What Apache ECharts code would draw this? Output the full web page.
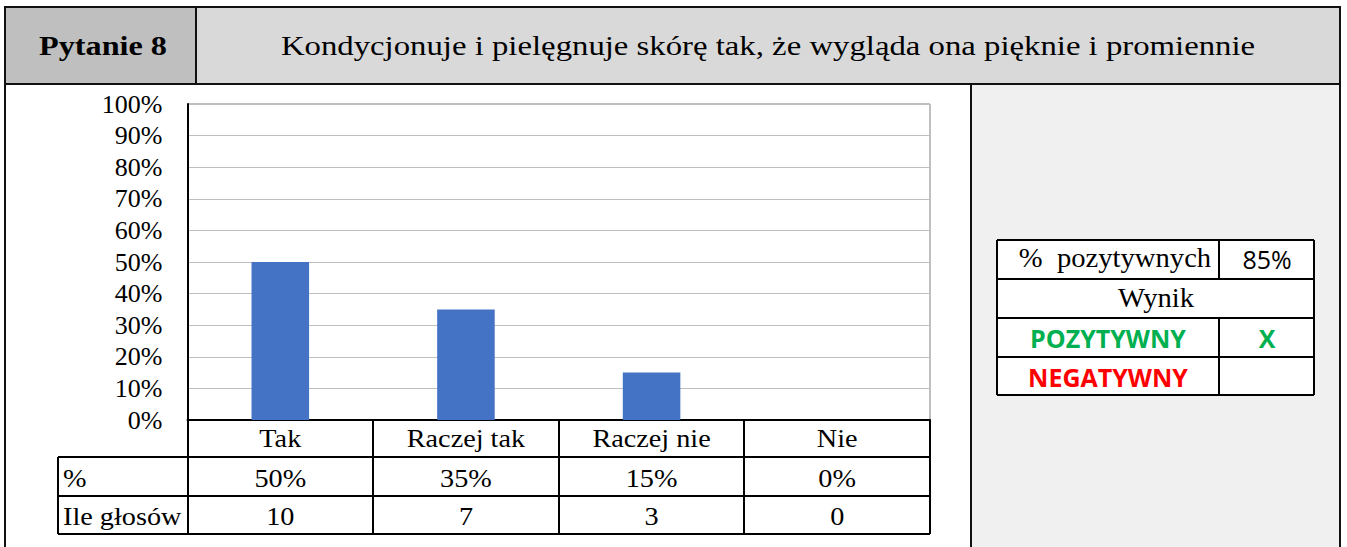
<!DOCTYPE html>
<html>
<head>
<meta charset="utf-8">
<script src="https://cdn.jsdelivr.net/npm/echarts@6/dist/echarts.min.js"></script>
<style>
html,body{margin:0;padding:0;background:#fff;}
#chart{width:1347px;height:547px;}
</style>
</head>
<body>
<div id="chart"></div>
<script>
// ---- data ----
const questionLabel = 'Pytanie 8';
const questionText = 'Kondycjonuje i pielęgnuje skórę tak, że wygląda ona pięknie i promiennie';
const categories = ['Tak', 'Raczej tak', 'Raczej nie', 'Nie'];
const percentValues = [50, 35, 15, 0];
const voteCounts = [10, 7, 3, 0];
const rowLabels = ['%', 'Ile głosów'];
const yMin = 0, yMax = 100, yInterval = 10;
const positiveLabel = '% pozytywnych';
const resultHeader = 'Wynik';
const resultLabels = ['POZYTYWNY', 'NEGATYWNY'];
const resultMarks = ['X', ''];
const positiveShare = percentValues[0] + percentValues[1];

// ---- layout ----
const SERIF = '"Liberation Serif","Times New Roman",serif';
const SANS = '"Open Sans","Liberation Sans",sans-serif';
const GRID = {left: 187.5, top: 104, width: 742.5, height: 316};

const chart = echarts.init(document.getElementById('chart'), null, {renderer: 'svg'});

chart.setOption({
  backgroundColor: '#ffffff',
  animation: false,
  grid: {left: GRID.left, top: GRID.top, width: GRID.width, height: GRID.height,
         show: true, borderColor: '#7f7f7f', borderWidth: 1, containLabel: false},
  xAxis: {
    type: 'category', data: categories,
    axisLine: {show: true, lineStyle: {color: '#000', width: 2}},
    axisTick: {show: false},
    axisLabel: {show: false},
    splitLine: {show: false}
  },
  yAxis: {
    type: 'value', min: yMin, max: yMax, interval: yInterval,
    axisLine: {show: true, lineStyle: {color: '#000', width: 2}},
    axisTick: {show: false},
    axisLabel: {formatter: '{value}%', color: '#000', fontFamily: SERIF, fontSize: 26, margin: 25},
    splitLine: {show: true, lineStyle: {color: '#bfbfbf', width: 1}}
  },
  series: [{
    type: 'bar', data: percentValues, barWidth: '31%',
    itemStyle: {color: '#4472c4'}
  }]
});

function txt(x, y, text, o) {
  o = o || {};
  return {
    type: 'text', x: x, y: y, scaleX: o.sx || 1, z: 20,
    style: {
      x: 0, y: 0, text: String(text), fill: o.color || '#000',
      fontFamily: o.family || SERIF, fontSize: o.size || 24,
      fontWeight: o.weight || 'normal',
      align: o.align || 'center', verticalAlign: 'middle'
    }
  };
}
function line(x1, y1, x2, y2, w, c) {
  return {type: 'line', z: 15, shape: {x1, y1, x2, y2},
          style: {stroke: c || '#000', lineWidth: w || 2}};
}
function rect(x, y, w, h, fill) {
  return {type: 'rect', z: 1, shape: {x, y, width: w, height: h}, style: {fill}};
}

const g = [];
// header backgrounds
g.push(rect(6, 8, 190, 76, '#bfbfbf'));
g.push(rect(196, 8, 1144, 76, '#d9d9d9'));
// right panel
g.push(rect(971, 85, 369, 462, '#f0f0f0'));
// outer frame
g.push(line(5, 7, 1340, 7, 2, '#111'));
g.push(line(5, 6, 5, 547, 2, '#111'));
g.push(line(1340, 6, 1340, 547, 2, '#111'));
g.push(line(5, 84, 1340, 84, 2, '#111'));
g.push(line(196, 7, 196, 84, 2, '#111'));
g.push(line(971, 84, 971, 547, 2, '#111'));
// header text
g.push(txt(103, 46, questionLabel, {size: 28, weight: 'bold', sx: 1.15}));
g.push(txt(768, 46, questionText, {size: 28, sx: 1.17}));

// data table under the chart
const xs = categories.map((c, i) => chart.convertToPixel({xAxisIndex: 0}, c));
const colW = GRID.width / categories.length;
const bounds = [GRID.left];
categories.forEach((c, i) => bounds.push(GRID.left + (i + 1) * colW));
const tableLeft = 58;
const rowY = [420, 457, 496, 534];
bounds.forEach(b => g.push(line(Math.round(b), rowY[0], Math.round(b), rowY[3], 2)));
g.push(line(tableLeft, rowY[1], tableLeft, rowY[3], 2));
g.push(line(tableLeft, rowY[1], 930, rowY[1], 2));
g.push(line(tableLeft, rowY[2], 930, rowY[2], 2));
g.push(line(tableLeft, rowY[3], 930, rowY[3], 2));
categories.forEach((c, i) => {
  g.push(txt(xs[i], 439, c, {size: 25, sx: 1.13}));
  g.push(txt(xs[i], 479, percentValues[i] + '%', {size: 25, sx: 1.13}));
  g.push(txt(xs[i], 517, voteCounts[i], {size: 25, sx: 1.13}));
});
g.push(txt(63, 479, rowLabels[0], {size: 25, sx: 1.13, align: 'left'}));
g.push(txt(63, 517, rowLabels[1], {size: 25, sx: 1.13, align: 'left'}));

// result table on the right
const rL = 997, rR = 1314, rS = 1219;
const rY = [240, 279, 318, 357, 395];
g.push(rect(rL, rY[0], rR - rL, rY[4] - rY[0], '#ffffff'));
rY.forEach(y => g.push(line(rL, y, rR, y, 2)));
g.push(line(rL, rY[0], rL, rY[4], 2));
g.push(line(rR, rY[0], rR, rY[4], 2));
g.push(line(rS, rY[0], rS, rY[1], 2));
g.push(line(rS, rY[2], rS, rY[4], 2));
g.push(txt(1115, 258, positiveLabel.replace(' ', '  '), {size: 27, sx: 1.06}));
g.push(txt(1267, 259, positiveShare + '%', {family: SANS, size: 25}));
g.push(txt(1156, 298, resultHeader, {size: 27, sx: 1.06}));
const resultColors = ['#00b050', '#ff0000'];
resultLabels.forEach((l, i) => {
  g.push(txt(1108, 338 + i * 39, l, {family: SANS, size: 25, weight: 'bold', color: resultColors[i]}));
  g.push(txt(1267, 338 + i * 39, resultMarks[i], {family: SANS, size: 25, weight: 'bold', color: resultColors[i]}));
});

chart.setOption({graphic: {elements: g}});
</script>
</body>
</html>
